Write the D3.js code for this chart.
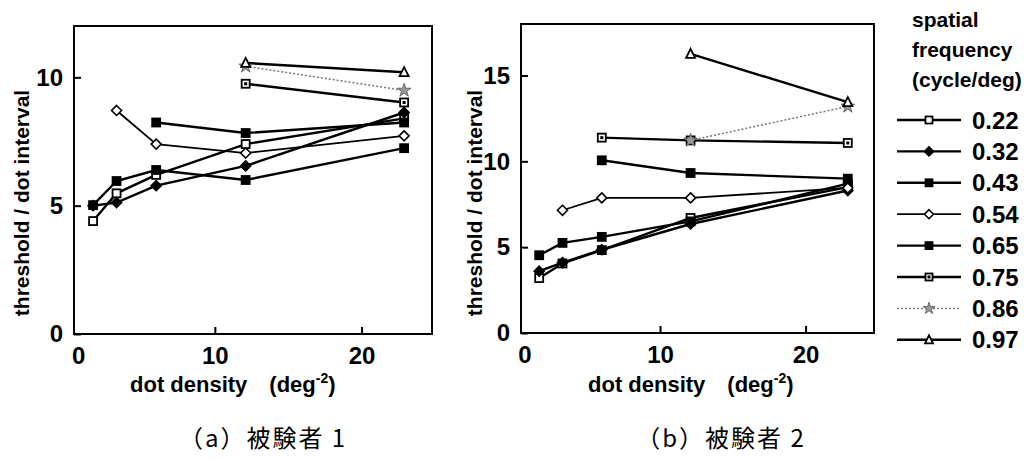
<!DOCTYPE html>
<html>
<head>
<meta charset="utf-8">
<script src="https://cdn.jsdelivr.net/npm/d3@7"></script>
<style>
  body { margin: 0; background: #fff; }
  text { font-family: "Liberation Sans", Arial, sans-serif; fill: #000; }
</style>
</head>
<body>
<div id="d3"></div>
<script>
// dot density (deg^-2) at which thresholds were measured
const densities = [1.7, 3.3, 6.0, 12.1, 22.9];

// spatial frequency (cycle/deg) and the marker used for each
const frequencies = ["0.22", "0.32", "0.43", "0.54", "0.65", "0.75", "0.86", "0.97"];
const markerTypes = ["openSquare", "filledDiamond", "filledSquare", "openDiamond",
  "filledSquare", "dotSquare", "star", "openTriangle"];

// threshold / dot interval, one row per frequency, one column per density (null = not measured)
const subject1 = [
  [4.4, 5.48, 6.2, 7.4, 8.4],
  [5.0, 5.12, 5.78, 6.55, 8.63],
  [5.02, 5.96, 6.39, 6.0, 7.24],
  [null, 8.71, 7.4, 7.05, 7.72],
  [null, null, 8.24, 7.83, 8.24],
  [null, null, null, 9.75, 9.02],
  [null, null, null, 10.43, 9.49],
  [null, null, null, 10.56, 10.2]
];
const subject2 = [
  [3.2, 4.05, 4.83, 6.7, 8.5],
  [3.6, 4.1, 4.85, 6.35, 8.3],
  [4.53, 5.25, 5.6, 6.5, 8.7],
  [null, 7.15, 7.87, 7.87, 8.45],
  [null, null, 10.06, 9.32, 8.99],
  [null, null, 11.38, 11.22, 11.07],
  [null, null, null, 11.22, 13.2],
  [null, null, null, 16.26, 13.45]
];

const xTicks = [0, 10, 20];
const yTicks1 = [0, 5, 10];
const yTicks2 = [0, 5, 10, 15];
const captions = ["（a）被験者 1", "（b）被験者 2"];

const svg = d3
  .select("#d3")
  .append("svg")
  .attr("width", 1034)
  .attr("height", 461);

// marker shapes
function drawMarker(g, type, x, y, s) {
  const h = s / 2;
  if (type === "openSquare" || type === "filledSquare" || type === "dotSquare") {
    g.append("rect")
      .attr("x", x - h).attr("y", y - h)
      .attr("width", s).attr("height", s)
      .attr("fill", type === "filledSquare" ? "#000" : "#fff")
      .attr("stroke", "#000")
      .attr("stroke-width", 1.8);
    if (type === "dotSquare") {
      g.append("rect")
        .attr("x", x - 1.5).attr("y", y - 1.5)
        .attr("width", 3).attr("height", 3)
        .attr("fill", "#000");
    }
  } else if (type === "filledDiamond" || type === "openDiamond") {
    const d = h + 1;
    g.append("path")
      .attr("d", `M${x},${y - d}L${x + d},${y}L${x},${y + d}L${x - d},${y}Z`)
      .attr("fill", type === "filledDiamond" ? "#000" : "#fff")
      .attr("stroke", "#000")
      .attr("stroke-width", 1.6);
  } else if (type === "openTriangle") {
    g.append("path")
      .attr("d", `M${x},${y - h - 1}L${x + h + 0.5},${y + h}L${x - h - 0.5},${y + h}Z`)
      .attr("fill", "#fff")
      .attr("stroke", "#000")
      .attr("stroke-width", 1.8);
  } else if (type === "star") {
    g.append("path")
      .attr("d", d3.symbol(d3.symbolStar, s * s * 0.9)())
      .attr("transform", `translate(${x},${y})`)
      .attr("fill", "#999")
      .attr("stroke", "#555")
      .attr("stroke-width", 0.8);
  }
}

function lineStyle(sel, i) {
  if (frequencies[i] === "0.86") {
    sel.attr("stroke", "#777").attr("stroke-width", 1.5).attr("stroke-dasharray", "2,2");
  } else if (frequencies[i] === "0.54") {
    sel.attr("stroke", "#000").attr("stroke-width", 1.8);
  } else {
    sel.attr("stroke", "#000").attr("stroke-width", 2.4);
  }
}

const panels = [
  { data: subject1, left: 74, top: 26, width: 358, height: 308, xDomain: [0.4, 24.8],
    yMax: 12, yTicks: yTicks1, caption: captions[0], captionX: 263, yTitleX: -52, xTitleX: 56 },
  { data: subject2, left: 521, top: 24, width: 353, height: 309, xDomain: [0.45, 24.7],
    yMax: 18, yTicks: yTicks2, caption: captions[1], captionX: 721, yTitleX: -46, xTitleX: 67 }
];

panels.forEach((p) => {
  const g = svg.append("g").attr("transform", `translate(${p.left},${p.top})`);

  const x = d3.scaleLinear().domain(p.xDomain).range([0, p.width]);
  const y = d3.scaleLinear().domain([0, p.yMax]).range([p.height, 0]);

  // X axis, ticks pointing inward
  const xa = g.append("g")
    .attr("transform", `translate(0,${p.height})`)
    .call(d3.axisBottom(x).tickValues(xTicks).tickSizeInner(-7).tickSizeOuter(0).tickPadding(13));
  xa.select(".domain").remove();
  xa.selectAll(".tick line").attr("stroke-width", 2).filter((d) => d < p.xDomain[0]).remove();
  xa.selectAll(".tick text")
    .attr("font-size", 24).attr("font-weight", "bold")
    .attr("dx", (d) => (d === 0 ? 10 : 0));

  // Y axis
  const ya = g.append("g")
    .call(d3.axisLeft(y).tickValues(p.yTicks).tickSizeInner(-7).tickSizeOuter(0).tickPadding(11));
  ya.select(".domain").remove();
  ya.selectAll(".tick line").attr("stroke-width", 2);
  ya.selectAll(".tick text").attr("font-size", 24).attr("font-weight", "bold");

  // frame
  g.append("rect")
    .attr("width", p.width).attr("height", p.height)
    .attr("fill", "none").attr("stroke", "#000").attr("stroke-width", 2);

  // lines
  const line = d3.line()
    .defined((d) => d != null)
    .x((d, j) => x(densities[j]))
    .y((d) => y(d));

  p.data.forEach((row, i) => {
    g.append("path")
      .attr("d", line(row))
      .attr("fill", "none")
      .call(lineStyle, i);
  });

  // markers on top
  p.data.forEach((row, i) => {
    row.forEach((v, j) => {
      if (v == null) return;
      drawMarker(g, markerTypes[i], x(densities[j]), y(v), 8);
    });
  });

  // axis titles
  g.append("text")
    .attr("transform", `translate(${p.yTitleX},${203 - p.top}) rotate(-90)`)
    .attr("text-anchor", "middle")
    .attr("dy", "0.35em")
    .attr("font-size", 21)
    .attr("font-weight", "bold")
    .text("threshold / dot interval");

  const xt = g.append("text")
    .attr("x", p.xTitleX)
    .attr("y", 392 - p.top)
    .attr("font-size", 22)
    .attr("font-weight", "bold");
  xt.append("tspan").text("dot density");
  xt.append("tspan").attr("dx", 22).text("(deg");
  xt.append("tspan").attr("font-size", 14).attr("dy", -9).text("-2");
  xt.append("tspan").attr("dy", 9).text(")");

  // caption
  svg.append("text")
    .attr("x", p.captionX)
    .attr("y", 447)
    .attr("text-anchor", "middle")
    .attr("font-size", 24)
    .attr("letter-spacing", 2)
    .style("font-family", '"Noto Sans CJK JP", sans-serif')
    .text(p.caption);
});

// legend
const lg = svg.append("g").attr("transform", "translate(912,0)");
["spatial", "frequency", "(cycle/deg)"].forEach((t, i) => {
  lg.append("text")
    .attr("x", 0).attr("y", 27 + i * 30)
    .attr("font-size", 21).attr("font-weight", "bold")
    .text(t);
});

frequencies.forEach((f, i) => {
  const cy = 120 + i * 31.4;
  const l = lg.append("line")
    .attr("x1", -15).attr("x2", 49)
    .attr("y1", cy).attr("y2", cy);
  lineStyle(l, i);
  drawMarker(lg, markerTypes[i], 17, cy, 7);
  lg.append("text")
    .attr("x", 60).attr("y", cy)
    .attr("dy", "0.36em")
    .attr("font-size", 24).attr("font-weight", "bold")
    .text(f);
});
</script>
</body>
</html>
